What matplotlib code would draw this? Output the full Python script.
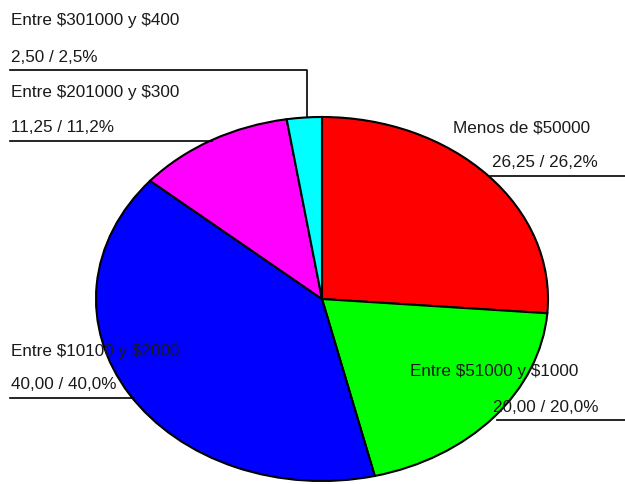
import numpy as np
import matplotlib.pyplot as plt

plt.rcParams['font.family'] = ['Liberation Sans', 'DejaVu Sans']
plt.rcParams['text.parse_math'] = False

labels = ['Menos de $50000', 'Entre $51000 y $1000', 'Entre $10100 y $2000',
          'Entre $201000 y $300', 'Entre $301000 y $400']
values = [26.25, 20.00, 40.00, 11.25, 2.50]
pct_text = ['26,25 / 26,2%', '20,00 / 20,0%', '40,00 / 40,0%',
            '11,25 / 11,2%', '2,50 / 2,5%']
colors = ['#ff0000', '#00ff00', '#0000ff', '#ff00ff', '#00ffff']

W, H = 625, 485
fig = plt.figure(figsize=(W / 100, H / 100), dpi=100)

# pie geometry in pixels (ellipse)
cx, cy, rx, ry = 322, 300, 226, 182
pax = fig.add_axes([(cx - rx) / W, (H - cy - ry) / H, 2 * rx / W, 2 * ry / H])
wedges, _ = pax.pie(values, colors=colors, startangle=90, counterclock=False,
                    radius=1, wedgeprops=dict(edgecolor='black', linewidth=1.5))
pax.set_aspect('auto')
pax.set_xlim(-1, 1)
pax.set_ylim(-1, 1)
pax.axis('off')

ax = fig.add_axes([0, 0, 1, 1], zorder=5)
ax.set_xlim(0, W)
ax.set_ylim(H, 0)
ax.axis('off')
ax.patch.set_alpha(0)


def edge_x(y, side):
    dy = (y - cy) / ry
    return cx + side * rx * np.sqrt(max(0, 1 - dy * dy))


# (name x, name y, value x, value y, line y, line start x / side)
layout = [
    (453, 128, 492, 163, 177, 490),
    (410, 372, 493, 408, 421, 497),
    (11, 352, 11, 385, 399, -1),
    (11, 92, 11, 128, 142, -1),
    (11, 20, 11, 58, 71, 0),
]

fs = 12.3
for lab, pt, (nx, ny, vx, vy, ly, lx) in zip(labels, pct_text, layout):
    ax.text(nx, ny, lab, fontsize=fs, va='center', ha='left', color='#1a1a1a')
    ax.text(vx, vy, pt, fontsize=fs, va='center', ha='left', color='#1a1a1a')
    if lx > 0:
        ax.plot([lx, W], [ly, ly], color='black', lw=1.2)
    elif lx < 0:
        ax.plot([10, edge_x(ly, -1) + 2], [ly, ly], color='black', lw=1.2)
    else:
        top_x = 307
        top_y = cy - ry * np.sqrt(1 - ((top_x - cx) / rx) ** 2)
        ax.plot([10, top_x, top_x], [ly, ly, top_y], color='black', lw=1.2)

fig.savefig('out.png', dpi=100)
